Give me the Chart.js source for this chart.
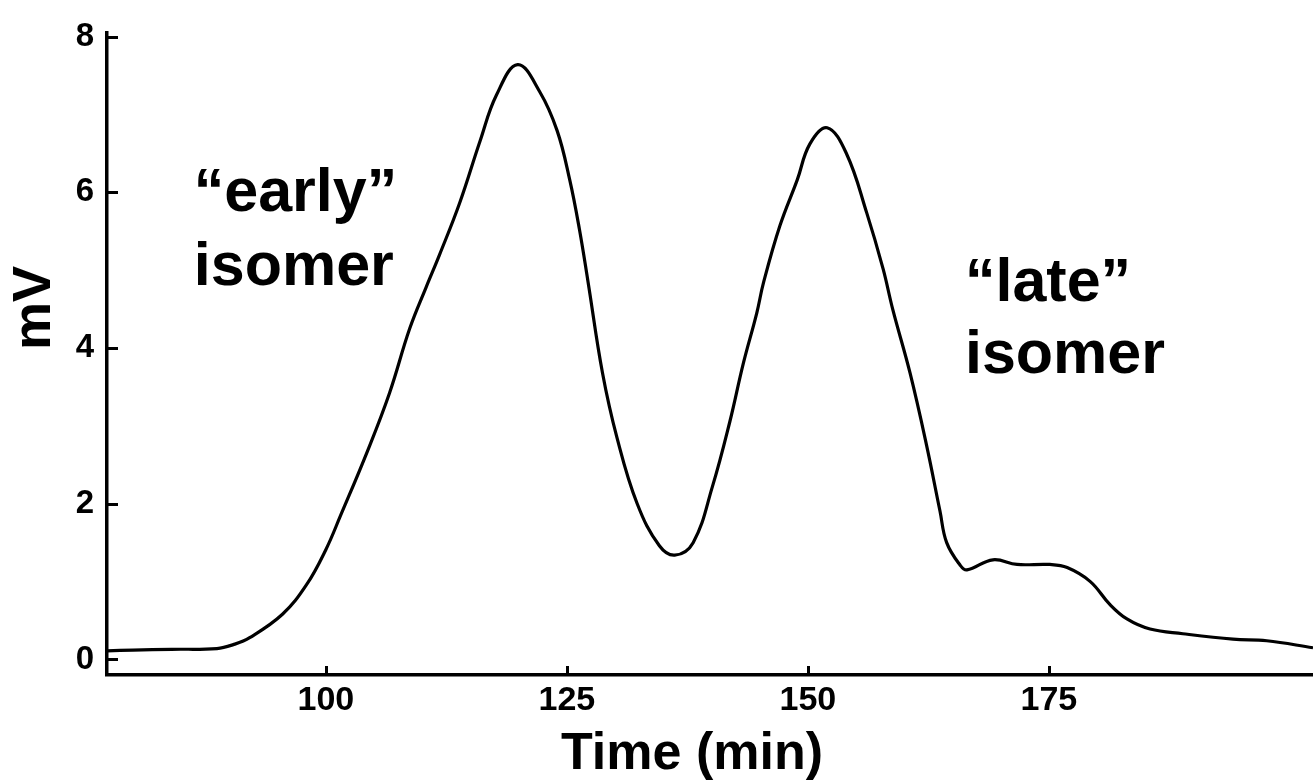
<!DOCTYPE html>
<html>
<head>
<meta charset="utf-8">
<script src="https://cdn.jsdelivr.net/npm/chart.js@4"></script>
<style>
  html, body { margin: 0; padding: 0; background: #fff; }
  #wrap { width: 1313px; height: 781px; }
</style>
</head>
<body>
<div id="wrap"><canvas id="chart" width="1313" height="781"></canvas></div>
<script>
// chromatogram trace
const timeMin = [77.3, 80, 84, 88.7, 90.4, 92.1, 95.5, 98.0, 100, 101.5, 104.3, 106.6, 108.7, 110.4, 111.8,
  113.9, 116.0, 117.7, 119.9, 122.2, 124.0, 125.3, 126.3, 127.2, 128.7, 130.2, 132.3, 134.6, 136.2,
  138.1, 140.1, 141.9, 143.3, 144.7, 145.4, 147.1, 148.9, 150.2, 152.0, 154.0, 156.1, 157.8, 158.8,
  160.6, 162.3, 163.7, 164.4, 165.8, 166.5, 169.2, 171.7, 175.1, 176.9, 179.3, 181.3, 183.1, 185.5,
  188.9, 194.1, 197.6, 202.4];
const signalMv = [0.11, 0.12, 0.13, 0.14, 0.19, 0.28, 0.58, 0.96, 1.41, 1.84, 2.67, 3.42, 4.25, 4.78, 5.2,
  5.87, 6.66, 7.25, 7.64, 7.29, 6.79, 6.16, 5.53, 4.85, 3.68, 2.85, 2.0, 1.46, 1.34,
  1.5, 2.22, 3.05, 3.8, 4.45, 4.84, 5.57, 6.16, 6.62, 6.83, 6.5, 5.74, 5.02, 4.5,
  3.68, 2.76, 1.91, 1.5, 1.21, 1.15, 1.28, 1.22, 1.22, 1.18, 1.0, 0.71, 0.52, 0.39,
  0.33, 0.26, 0.24, 0.15];

const xTicks = [100, 125, 150, 175];
const yTicks = [0, 2, 4, 6, 8];

// text labels, anchored in data units: [time, mV] of the left baseline
const notes = [
  { lines: ['\u201Cearly\u201D', 'isomer'], t: 86.3, v: [5.76, 4.81] },
  { lines: ['\u201Clate\u201D', 'isomer'], t: 166.3, v: [4.61, 3.68] }
];

const FONT = '"Liberation Sans", Arial, sans-serif';

const inkPlugin = {
  id: 'ink',
  afterDraw(chart) {
    const ctx = chart.ctx;
    const xs = chart.scales.x, ys = chart.scales.y;
    const area = chart.chartArea;
    ctx.save();
    ctx.strokeStyle = '#000';
    ctx.fillStyle = '#000';
    ctx.lineWidth = 3;
    // inward tick marks
    yTicks.forEach(function(v) {
      const py = Math.round(ys.getPixelForValue(v)) + 0.5;
      ctx.beginPath();
      ctx.moveTo(area.left, py);
      ctx.lineTo(area.left + 11, py);
      ctx.stroke();
    });
    xTicks.forEach(function(t) {
      const px = Math.round(xs.getPixelForValue(t)) + 0.5;
      ctx.beginPath();
      ctx.moveTo(px, area.bottom);
      ctx.lineTo(px, area.bottom - 9);
      ctx.stroke();
    });
    // annotations
    ctx.font = 'bold 61px ' + FONT;
    ctx.textAlign = 'left';
    ctx.textBaseline = 'alphabetic';
    notes.forEach(function(n) {
      n.lines.forEach(function(s, i) {
        ctx.fillText(s, xs.getPixelForValue(n.t), ys.getPixelForValue(n.v[i]));
      });
    });
    // axis titles
    ctx.font = 'bold 52px ' + FONT;
    ctx.textAlign = 'center';
    ctx.fillText('Time (min)', 692, 769);
    ctx.translate(50, 308);
    ctx.rotate(-Math.PI / 2);
    ctx.font = 'bold 54px ' + FONT;
    ctx.fillText('mV', 0, 0);
    ctx.restore();
  }
};

new Chart(document.getElementById('chart'), {
  type: 'line',
  data: {
    datasets: [{
      data: timeMin.map(function(t, i) { return { x: t, y: signalMv[i] }; }),
      borderColor: '#000',
      borderWidth: 3.2,
      pointRadius: 0,
      tension: 0.4,
      fill: false
    }]
  },
  options: {
    responsive: false,
    animation: false,
    layout: { padding: { top: 20, right: 0, left: 0, bottom: 0 } },
    plugins: { legend: { display: false }, tooltip: { enabled: false } },
    scales: {
      x: {
        type: 'linear',
        min: 77.3,
        max: 202.4,
        afterFit: function(s) { s.height = 106; },
        afterBuildTicks: function(s) { s.ticks = xTicks.map(function(v) { return { value: v }; }); },
        grid: { display: false, drawTicks: false },
        border: { display: true, color: '#000', width: 3.5 },
        ticks: { color: '#000', padding: 5, maxRotation: 0, autoSkip: false,
          font: { family: FONT, size: 34, weight: 'bold' } }
      },
      y: {
        min: -0.2,
        max: 8.05,
        afterFit: function(s) { s.width = 107; },
        afterBuildTicks: function(s) { s.ticks = yTicks.map(function(v) { return { value: v }; }); },
        grid: { display: false, drawTicks: false },
        border: { display: true, color: '#000', width: 3.5 },
        ticks: { color: '#000', padding: 13,
          font: { family: FONT, size: 33, weight: 'bold' } }
      }
    }
  },
  plugins: [inkPlugin]
});
</script>
</body>
</html>
